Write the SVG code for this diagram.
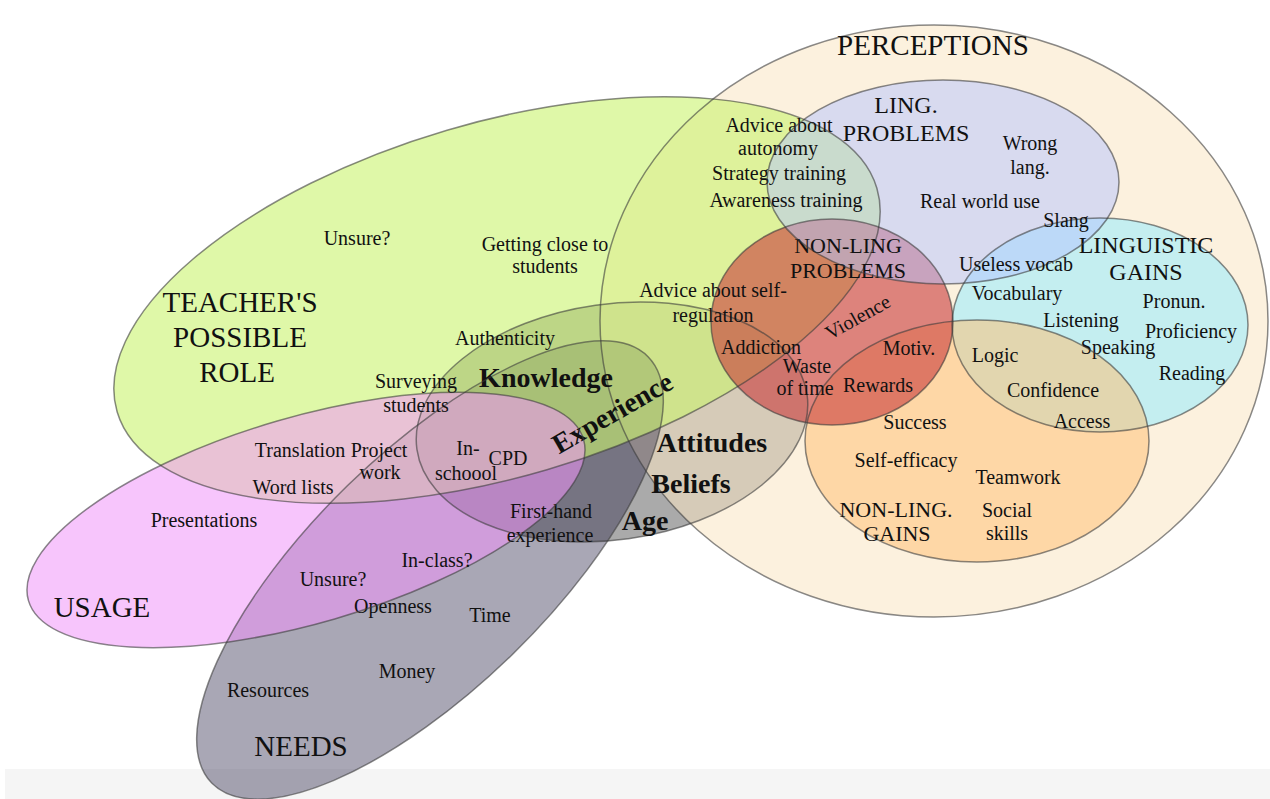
<svg xmlns="http://www.w3.org/2000/svg" width="1270" height="799" viewBox="0 0 1270 799">
<defs>
<style>
text{font-family:"Liberation Serif","Times New Roman",serif;font-size:20px;fill:#111;text-anchor:middle}
.big{font-size:29px}
.mid{font-size:24px}
.mid2{font-size:22px}
.bold{font-size:28px;font-weight:bold}
.outline{fill:none;stroke:#3c3c3c;stroke-opacity:0.6;stroke-width:1.5}
</style>
<ellipse id="s-attitudes" cx="612" cy="422" rx="197" ry="118" transform="rotate(-8 612 422)"/>
<ellipse id="s-perceptions" cx="934" cy="321" rx="334" ry="296"/>
<ellipse id="s-needs" cx="430" cy="570" rx="305" ry="118" transform="rotate(-44.3 430 570)"/>
<ellipse id="s-teacher" cx="497" cy="300" rx="396" ry="177" transform="rotate(-16.4 497 300)"/>
<ellipse id="s-linggains" cx="1100" cy="325" rx="148" ry="107"/>
<ellipse id="s-nonlinggains" cx="977" cy="441" rx="172" ry="121"/>
<ellipse id="s-nonlingprob" cx="832" cy="322" rx="121" ry="103"/>
<ellipse id="s-lingprob" cx="943" cy="182" rx="176" ry="102"/>
<ellipse id="s-usage" cx="306" cy="520" rx="289" ry="103" transform="rotate(-16.2 306 520)"/>
</defs>
<rect width="1270" height="799" fill="#ffffff"/>
<rect x="5" y="769" width="1265" height="30" fill="#f5f5f5"/>
<g id="fills">
<use href="#s-attitudes" fill="#aaaaaa"/>
<use href="#s-perceptions" fill="rgb(250,229,195)" fill-opacity="0.55"/>
<use href="#s-needs" fill="rgb(40,35,70)" fill-opacity="0.4"/>
<use href="#s-teacher" fill="rgb(202,243,110)" fill-opacity="0.6"/>
<use href="#s-linggains" fill="rgb(150,235,255)" fill-opacity="0.55"/>
<use href="#s-nonlinggains" fill="rgb(255,190,110)" fill-opacity="0.5"/>
<use href="#s-nonlingprob" fill="rgb(200,58,58)" fill-opacity="0.6"/>
<use href="#s-lingprob" fill="rgb(180,195,255)" fill-opacity="0.5"/>
<use href="#s-usage" fill="rgb(240,150,250)" fill-opacity="0.55"/>
</g>
<g id="connectors"/>
<g id="node-perceptions">
<use href="#s-perceptions" class="outline"/>
<text class="big" x="933" y="55">PERCEPTIONS</text>
</g>
<g id="node-attitudes">
<use href="#s-attitudes" class="outline"/>
<text class="bold" x="546" y="387">Knowledge</text>
<text class="bold" transform="translate(617,421) rotate(-30)" x="0" y="0">Experience</text>
<text class="bold" x="712" y="452">Attitudes</text>
<text class="bold" x="691" y="493">Beliefs</text>
<text class="bold" x="645" y="530">Age</text>
</g>
<g id="node-needs">
<use href="#s-needs" class="outline"/>
<text x="551" y="518">First-hand</text>
<text x="550" y="542">experience</text>
<text x="393" y="613">Openness</text>
<text x="490" y="622">Time</text>
<text x="407" y="678">Money</text>
<text x="268" y="697">Resources</text>
<text class="big" x="301" y="756">NEEDS</text>
</g>
<g id="node-teacher">
<use href="#s-teacher" class="outline"/>
<text x="357" y="245">Unsure?</text>
<text x="545" y="251">Getting close to</text>
<text x="545" y="273">students</text>
<text class="big" x="240" y="312">TEACHER'S</text>
<text class="big" x="240" y="347">POSSIBLE</text>
<text class="big" x="237" y="382">ROLE</text>
<text x="779" y="132">Advice about</text>
<text x="778" y="155">autonomy</text>
<text x="779" y="180">Strategy training</text>
<text x="786" y="207">Awareness training</text>
<text x="713" y="297">Advice about self-</text>
<text x="713" y="322">regulation</text>
<text x="505" y="345">Authenticity</text>
<text x="416" y="388">Surveying</text>
<text x="416" y="412">students</text>
</g>
<g id="node-linguistic-gains">
<use href="#s-linggains" class="outline"/>
<text class="mid" x="1146" y="253">LINGUISTIC</text>
<text class="mid" x="1146" y="280">GAINS</text>
<text x="1017" y="300">Vocabulary</text>
<text x="1174" y="308">Pronun.</text>
<text x="1081" y="327">Listening</text>
<text x="1191" y="338">Proficiency</text>
<text x="1118" y="354">Speaking</text>
<text x="1192" y="380">Reading</text>
<text x="995" y="362">Logic</text>
<text x="1053" y="397">Confidence</text>
<text x="1082" y="428">Access</text>
</g>
<g id="node-non-ling-gains">
<use href="#s-nonlinggains" class="outline"/>
<text x="915" y="429">Success</text>
<text x="906" y="467">Self-efficacy</text>
<text x="1018" y="484">Teamwork</text>
<text class="mid2" x="896" y="517">NON-LING.</text>
<text class="mid2" x="897" y="541">GAINS</text>
<text x="1007" y="517">Social</text>
<text x="1007" y="540">skills</text>
</g>
<g id="node-non-ling-problems">
<use href="#s-nonlingprob" class="outline"/>
<text class="mid2" x="848" y="253">NON-LING</text>
<text class="mid2" x="848" y="278">PROBLEMS</text>
<text transform="translate(861,323) rotate(-29)" x="0" y="0">Violence</text>
<text x="761" y="354">Addiction</text>
<text x="807" y="373">Waste</text>
<text x="805" y="395">of time</text>
<text x="909" y="355">Motiv.</text>
<text x="878" y="392">Rewards</text>
</g>
<g id="node-ling-problems">
<use href="#s-lingprob" class="outline"/>
<text class="mid" x="906" y="113">LING.</text>
<text class="mid" x="906" y="141">PROBLEMS</text>
<text x="1030" y="150">Wrong</text>
<text x="1030" y="174">lang.</text>
<text x="980" y="208">Real world use</text>
<text x="1066" y="227">Slang</text>
<text x="1016" y="271">Useless vocab</text>
</g>
<g id="node-usage">
<use href="#s-usage" class="outline"/>
<text x="300" y="457">Translation</text>
<text x="379" y="457">Project</text>
<text x="380" y="479">work</text>
<text x="293" y="494">Word lists</text>
<text x="468" y="455">In-</text>
<text x="466" y="480">schoool</text>
<text x="508" y="465">CPD</text>
<text x="204" y="527">Presentations</text>
<text class="big" x="102" y="617">USAGE</text>
<text x="333" y="586">Unsure?</text>
<text x="437" y="567">In-class?</text>
</g>
</svg>
